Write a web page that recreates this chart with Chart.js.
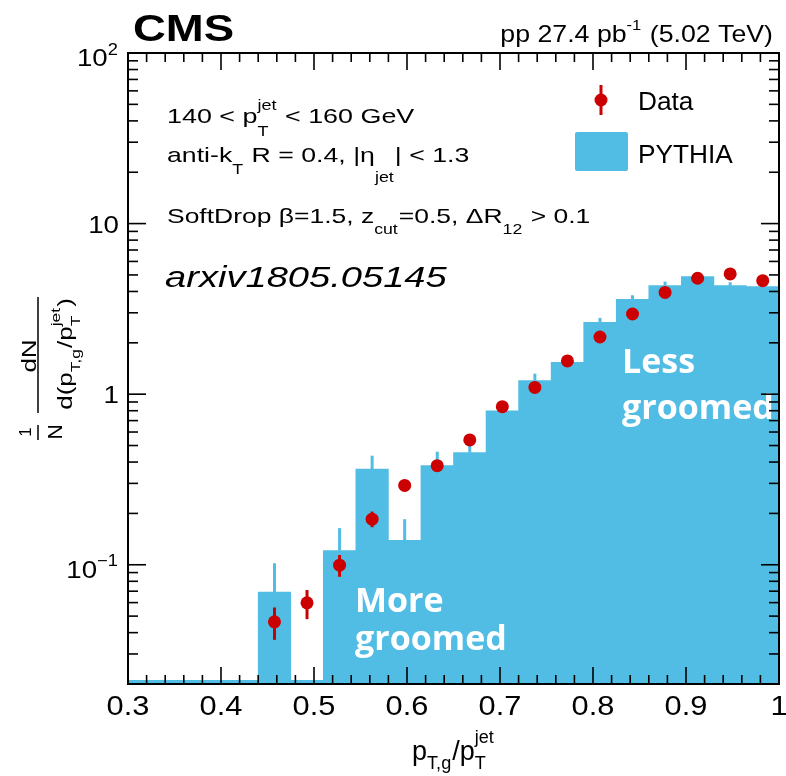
<!DOCTYPE html>
<html><head><meta charset="utf-8">
<script src="https://cdn.jsdelivr.net/npm/chart.js@4.4.1/dist/chart.umd.min.js"></script>
<style>html,body{margin:0;padding:0;background:#fff;}</style>
</head><body>
<canvas id="c" width="786" height="776"></canvas>
<script>
// ---- data ----
const binCenters   = [0.3175,0.3525,0.3875,0.4225,0.4575,0.4925,0.5275,0.5625,0.5975,0.6325,0.6675,0.7025,0.7375,0.7725,0.8075,0.8425,0.8775,0.9125,0.9475,0.9825];
const pythiaValues = [null,null,null,null,0.0692,null,0.121,0.364,0.139,0.381,0.454,0.80,1.20,1.537,2.64,3.60,4.33,4.89,4.33,4.27];
const pythiaUpper  = [null,null,null,null,0.102,null,0.164,0.436,0.185,0.46,0.50,0.85,1.32,1.60,2.80,3.80,4.57,5.00,4.53,4.40];
const dataValues   = [null,null,null,null,0.0463,0.0598,0.0995,0.185,0.292,0.381,0.539,0.845,1.096,1.566,2.164,2.952,3.95,4.78,5.07,4.63];
const dataLow      = [null,null,null,null,0.0363,0.048,0.085,0.166,0.280,0.365,0.515,0.81,1.05,1.50,2.08,2.84,3.80,4.60,4.88,4.45];
const dataHigh     = [null,null,null,null,0.0562,0.0711,0.114,0.205,0.305,0.398,0.565,0.88,1.14,1.63,2.25,3.07,4.10,4.96,5.26,4.82];
const xTickValues  = [0.3,0.4,0.5,0.6,0.7,0.8,0.9,1.0];
const xTickLabels  = ['0.3','0.4','0.5','0.6','0.7','0.8','0.9','1'];
const yDecades     = [0.1,1,10,100];
const yDecadeBase  = ['10','1','10','10'];
const yDecadeExp   = ['\u22121','','','2'];

const BLUE = '#52bde4';
const RED  = '#cc0000';
const FAM  = '"Liberation Sans", Arial, Helvetica, sans-serif';

function setFont(ctx, size, o){
  ctx.font = (o.style||'normal') + ' ' + (o.weight||'normal') + ' ' + size + 'px ' + (o.family||FAM);
}
// rich text: items are strings or {sup, sub, raise, drop}
function rich(ctx, items, x, y, o){
  const size = o.size, sx = o.sx || 1, sc = o.scale || 0.67;
  const parts = items.map(it => {
    if (typeof it === 'string'){ setFont(ctx, size, o); return {t: it, w: ctx.measureText(it).width}; }
    setFont(ctx, size*sc, o);
    const w1 = it.sup ? ctx.measureText(it.sup).width : 0;
    const w2 = it.sub ? ctx.measureText(it.sub).width : 0;
    return {sup: it.sup, sub: it.sub, raise: it.raise, drop: it.drop, w: Math.max(w1, w2) + size*0.04};
  });
  const total = parts.reduce((a,p)=>a+p.w, 0) * sx;
  const start = o.align === 'center' ? x - total/2 : (o.align === 'right' ? x - total : x);
  ctx.save();
  ctx.translate(start, y); ctx.scale(sx, 1);
  ctx.textAlign = 'left'; ctx.textBaseline = 'alphabetic'; ctx.fillStyle = o.color || '#000';
  let cx = 0;
  for (const p of parts){
    if (p.t !== undefined){ setFont(ctx, size, o); ctx.fillText(p.t, cx, 0); }
    else {
      setFont(ctx, size*sc, o);
      if (p.sup) ctx.fillText(p.sup, cx, -size*(p.raise ?? o.raise ?? 0.62));
      if (p.sub) ctx.fillText(p.sub, cx,  size*(p.drop ?? o.drop ?? 0.55));
    }
    cx += p.w;
  }
  ctx.restore();
  return total;
}
function line(ctx, x1, y1, x2, y2){ ctx.beginPath(); ctx.moveTo(x1,y1); ctx.lineTo(x2,y2); ctx.stroke(); }

const decor = {
  id: 'decor',
  beforeDatasetsDraw(chart){
    const {ctx, chartArea: a, scales: {x, y}} = chart;
    ctx.save();
    ctx.fillStyle = BLUE;
    ctx.fillRect(a.left, a.bottom - 4, a.right - a.left, 4);
    ctx.strokeStyle = BLUE; ctx.lineWidth = 3;
    binCenters.forEach((c, i) => {
      if (pythiaValues[i] == null) return;
      const px = x.getPixelForValue(c);
      line(ctx, px, y.getPixelForValue(pythiaValues[i]), px, y.getPixelForValue(pythiaUpper[i]));
    });
    ctx.restore();
  },
  afterDatasetsDraw(chart){
    const {ctx, chartArea: a, scales: {x, y}} = chart;
    ctx.save();
    // data error bars
    ctx.strokeStyle = RED; ctx.lineWidth = 3;
    binCenters.forEach((c, i) => {
      if (dataValues[i] == null) return;
      const px = x.getPixelForValue(c);
      line(ctx, px, y.getPixelForValue(dataLow[i]), px, y.getPixelForValue(dataHigh[i]));
    });
    // annotations inside plot
    const ow = {size: 34, weight: 'bold', family: '"Open Sans", sans-serif', color: '#fff'};
    rich(ctx, ['More'], 355, 612, ow);
    rich(ctx, ['groomed'], 355, 650, ow);
    rich(ctx, ['Less'], 622, 373, ow);
    rich(ctx, ['groomed'], 622, 419, ow);

    // frame
    ctx.strokeStyle = '#000'; ctx.lineWidth = 2;
    ctx.strokeRect(a.left, a.top, a.right - a.left, a.bottom - a.top);
    // x ticks (bottom + top)
    ctx.lineWidth = 1.6;
    for (let k = 15; k <= 50; k++){
      const v = k/50, px = x.getPixelForValue(v);
      const major = (k % 5 === 0);
      const L = major ? 17 : 9;
      line(ctx, px, a.bottom, px, a.bottom - L);
      line(ctx, px, a.top, px, a.top + L);
    }
    // y ticks (left + right)
    for (let e = -2; e <= 1; e++){
      for (let m = 1; m <= 9; m++){
        const v = m * Math.pow(10, e);
        if (v < 0.0199 || v > 100.1) continue;
        const py = y.getPixelForValue(v);
        const L = m === 1 ? 18 : 10;
        line(ctx, a.left, py, a.left + L, py);
        line(ctx, a.right, py, a.right - L, py);
      }
    }
    { const py = y.getPixelForValue(100); line(ctx, a.left, py, a.left + 18, py); line(ctx, a.right, py, a.right - 18, py); }

    // x tick labels
    xTickValues.forEach((v, i) => {
      rich(ctx, [xTickLabels[i]], x.getPixelForValue(v), 715, {size: 28, sx: 1.1, align: 'center'});
    });
    // y tick labels
    yDecades.forEach((v, i) => {
      const py = y.getPixelForValue(v);
      const hasExp = yDecadeExp[i] !== '';
      const items = hasExp ? [yDecadeBase[i], {sup: yDecadeExp[i]}] : [yDecadeBase[i]];
      rich(ctx, items, 119, py + 9 + (hasExp ? 4 : 0), {size: 24.5, sx: 1.13, align: 'right', scale: 0.66, raise: 0.46});
    });

    // header texts
    rich(ctx, ['CMS'], 133, 41, {size: 37, weight: 'bold', sx: 1.23});
    rich(ctx, ['pp 27.4 pb', {sup: '-1'}, ' (5.02 TeV)'], 773, 41.5, {size: 24.5, sx: 1.09, align: 'right', scale: 0.62, raise: 0.45});
    rich(ctx, ['140 < p', {sup: 'jet', sub: 'T', drop: 0.64}, ' < 160 GeV'], 167, 123, {size: 21, sx: 1.28});
    rich(ctx, ['anti-k', {sub: 'T'}, ' R = 0.4, |\u03b7', {sub: 'jet', drop: 0.94}, '| < 1.3'], 167, 162, {size: 21, sx: 1.27});
    rich(ctx, ['SoftDrop \u03b2=1.5, z', {sub: 'cut', drop: 0.5}, '=0.5, \u0394R', {sub: '12', drop: 0.5}, ' > 0.1'], 167, 223, {size: 21, sx: 1.26});
    rich(ctx, ['arxiv1805.05145'], 165, 287, {size: 30, style: 'italic', sx: 1.27});

    // legend
    ctx.strokeStyle = RED; ctx.lineWidth = 3;
    line(ctx, 601, 85, 601, 115);
    ctx.fillStyle = RED; ctx.beginPath(); ctx.arc(601, 100, 6.5, 0, Math.PI*2); ctx.fill();
    rich(ctx, ['Data'], 638, 110, {size: 25, sx: 1.05});
    ctx.fillStyle = BLUE; ctx.beginPath();
    if (ctx.roundRect) ctx.roundRect(575, 132, 53, 39, 2); else ctx.rect(575, 132, 53, 39);
    ctx.fill();
    rich(ctx, ['PYTHIA'], 638, 163, {size: 25, sx: 1.05});

    // x axis title
    rich(ctx, ['p', {sub: 'T,g', drop: 0.35}, '/p', {sup: 'jet', sub: 'T', raise: 0.63, drop: 0.35}], 453.5, 760, {size: 27, align: 'center'});

    // y axis title (rotated)
    const rot = (X, Y, fn) => { ctx.save(); ctx.translate(X, Y); ctx.rotate(-Math.PI/2); fn(); ctx.restore(); };
    rot(31, 432, () => rich(ctx, ['1'], 0, 0, {size: 17, align: 'center'}));
    rot(62, 432, () => rich(ctx, ['N'], 0, 0, {size: 20, sx: 1.05, align: 'center'}));
    rot(36, 356, () => rich(ctx, ['dN'], 0, 0, {size: 20, sx: 1.3, align: 'center'}));
    rot(72, 354, () => rich(ctx, ['d(p', {sub: 'T,g', drop: 0.4}, '/p', {sup: 'jet', sub: 'T', raise: 0.6, drop: 0.4}, ')'], 0, 0, {size: 20, sx: 1.3, align: 'center'}));
    ctx.strokeStyle = '#000'; ctx.lineWidth = 1.5;
    line(ctx, 38, 425, 38, 440);
    line(ctx, 38, 297, 38, 413);
    ctx.restore();
  }
};

new Chart(document.getElementById('c'), {
  type: 'bar',
  data: {
    datasets: [
      { type: 'line', label: 'Data', data: binCenters.map((c, i) => ({x: c, y: dataValues[i]})),
        showLine: false, pointRadius: 6.5, pointHoverRadius: 6.5, pointBackgroundColor: RED, pointBorderWidth: 0, order: 1 },
      { type: 'bar', label: 'PYTHIA', data: binCenters.map((c, i) => ({x: c, y: pythiaValues[i]})),
        backgroundColor: BLUE, borderWidth: 0, barPercentage: 1, categoryPercentage: 1, order: 2 }
    ]
  },
  options: {
    responsive: false, animation: false, devicePixelRatio: 1,
    layout: {padding: {top: 53, right: 7, left: 0, bottom: 0}},
    plugins: {legend: {display: false}, tooltip: {enabled: false}},
    scales: {
      x: {type: 'linear', min: 0.3, max: 1.0, offset: false, grid: {display: false}, border: {display: false},
          ticks: {display: false, stepSize: 0.1}, afterFit(s){ s.height = 92; }},
      y: {type: 'logarithmic', min: 0.02, max: 100, grid: {display: false}, border: {display: false},
          ticks: {display: false}, afterFit(s){ s.width = 128; }}
    }
  },
  plugins: [decor]
});
</script>
</body></html>
